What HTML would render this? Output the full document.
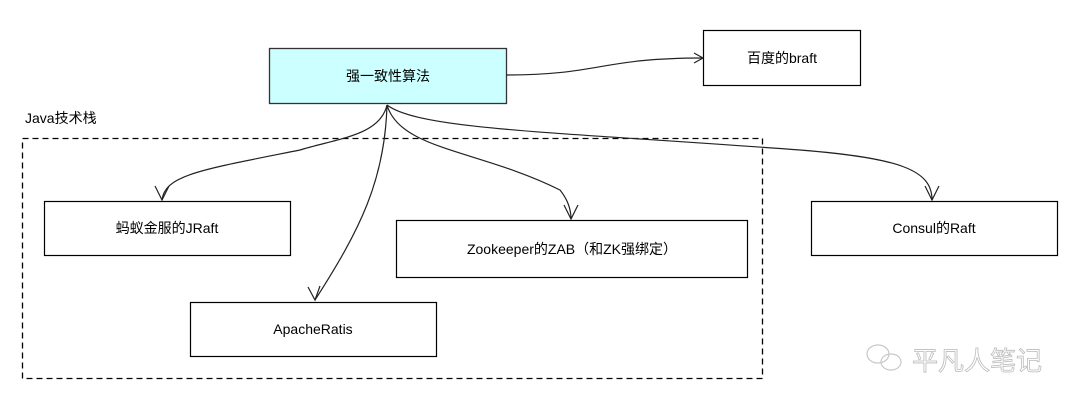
<!DOCTYPE html>
<html><head><meta charset="utf-8"><style>
body{margin:0;background:#fff;width:1080px;height:408px;overflow:hidden;font-family:"Liberation Sans","Noto Sans CJK SC",sans-serif;}
</style></head><body>
<svg width="1080" height="408" xmlns="http://www.w3.org/2000/svg" font-family="Liberation Sans, Noto Sans CJK SC, sans-serif" font-size="14">
<rect x="22.5" y="138.5" width="740" height="240" fill="none" stroke="#000" stroke-width="1.3" stroke-dasharray="6,4"/>
<text x="25" y="123" font-size="14">Java技术栈</text>
<rect x="269.5" y="48.5" width="237" height="55" fill="#ccffff" stroke="#333" stroke-width="1.3"/>
<text x="388" y="81" text-anchor="middle">强一致性算法</text>
<rect x="703.5" y="30.5" width="157" height="55" fill="#fff" stroke="#000" stroke-width="1.2"/>
<text x="782" y="63" text-anchor="middle">百度的braft</text>
<rect x="44.5" y="201.5" width="246" height="54" fill="#fff" stroke="#000" stroke-width="1.2"/>
<text x="167" y="233" text-anchor="middle">蚂蚁金服的JRaft</text>
<rect x="190.5" y="302.5" width="246" height="54" fill="#fff" stroke="#000" stroke-width="1.2"/>
<text x="313" y="334" text-anchor="middle">ApacheRatis</text>
<rect x="396.5" y="220.5" width="351" height="57" fill="#fff" stroke="#000" stroke-width="1.2"/>
<text x="572" y="254" text-anchor="middle">Zookeeper的ZAB（和ZK强绑定）</text>
<rect x="811.5" y="201.5" width="246" height="54" fill="#fff" stroke="#000" stroke-width="1.2"/>
<text x="934" y="233" text-anchor="middle">Consul的Raft</text>
<g fill="none" stroke="#222" stroke-width="1.2">
<path d="M506 75 C600 75,600 58,703 58"/><path d="M694 53 L703 58 L694 63"/>
<path d="M387 105 C380 135,340 138,300 150 C200 170,165 175,162 200"/><path d="M155 186 L162 200 L169 186"/>
<path d="M387 105 C385 180,360 230,315 300"/><path d="M308 287 L315 300 L320 286"/>
<path d="M387 105 C400 150,480 150,560 190 C568 200,571 210,571 219"/><path d="M564 205 L571 219 L578 205"/>
<path d="M387 105 C420 130,560 132,800 150 C900 158,932 170,932 200"/><path d="M925 186 L932 200 L939 186"/>
</g>
<g fill="none" stroke="#c8c8c8" stroke-width="1.2"><ellipse cx="878" cy="354" rx="11" ry="9"/><ellipse cx="891" cy="362" rx="10" ry="8"/></g>
<text x="912" y="370" font-size="26" fill="#fff" stroke="#bbb" stroke-width="0.8">平凡人笔记</text>
</svg>
</body></html>
